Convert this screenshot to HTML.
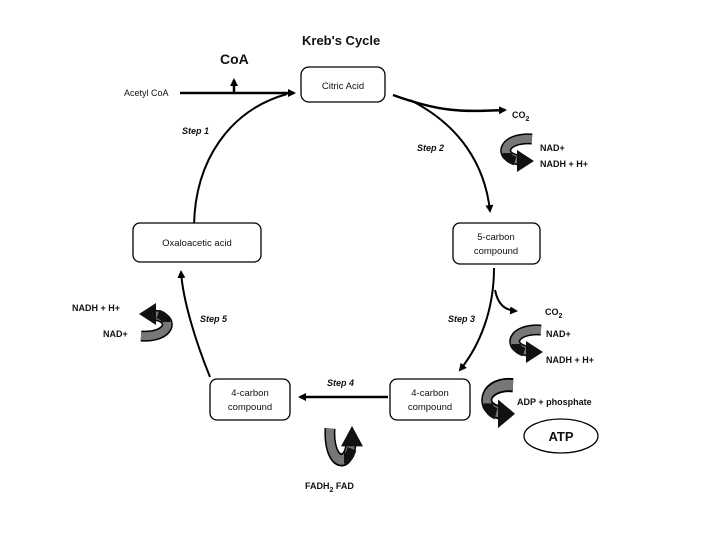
<!DOCTYPE html>
<html><head><meta charset="utf-8"><style>
html,body{margin:0;padding:0;background:#fff;}
svg{display:block;}
text{font-family:"Liberation Sans",Arial,sans-serif;fill:#111;}
</style></head><body>
<svg width="720" height="540" viewBox="0 0 720 540" xmlns="http://www.w3.org/2000/svg">
<defs>
<marker id="ah" markerWidth="8" markerHeight="8" refX="6" refY="4" orient="auto" markerUnits="userSpaceOnUse"><path d="M0,0 L8,4 L0,8 Z" fill="#000"/></marker>
<g id="curl">
<path d="M33,4 C4,2 -2,22 20,25" fill="none" stroke="#000" stroke-width="11"/>
<path d="M33,4 C4,2 -2,22 20,25" fill="none" stroke="#777" stroke-width="8"/>
<path d="M16,26 C10,24 8,21 8,18" fill="none" stroke="#111" stroke-width="9"/>
<polygon points="18,15 35,26 18,37" fill="#111"/>
</g>
</defs>

<text x="302" y="45" font-size="13" font-weight="bold">Kreb's Cycle</text>
<text x="220" y="64" font-size="14" font-weight="bold">CoA</text>
<line x1="234" y1="93" x2="234" y2="80" stroke="#000" stroke-width="2.5" marker-end="url(#ah)"/>
<text x="124" y="96" font-size="9">Acetyl CoA</text>
<line x1="180" y1="93" x2="294" y2="93" stroke="#000" stroke-width="2.5" marker-end="url(#ah)"/>

<rect x="301" y="67" width="84" height="35" rx="8" fill="#fff" stroke="#000" stroke-width="1.3"/>
<text x="343" y="89" font-size="9.5" text-anchor="middle">Citric Acid</text>

<path d="M393,95 C440,112 460,112 505,110" fill="none" stroke="#000" stroke-width="2.5" marker-end="url(#ah)"/>
<path d="M410,100 C460,125 485,165 490,211" fill="none" stroke="#000" stroke-width="2" marker-end="url(#ah)"/>
<text x="512" y="118" font-size="9" font-weight="bold">CO<tspan font-size="7" dy="3">2</tspan></text>
<use href="#curl" x="499" y="135"/>
<text x="540" y="151" font-size="9" font-weight="bold">NAD+</text>
<text x="540" y="167" font-size="9" font-weight="bold">NADH + H+</text>

<text x="182" y="134" font-size="9" font-weight="bold" font-style="italic">Step 1</text>
<text x="417" y="151" font-size="9" font-weight="bold" font-style="italic">Step 2</text>

<path d="M194,226 C195,160 230,110 287,94" fill="none" stroke="#000" stroke-width="2"/>

<rect x="133" y="223" width="128" height="39" rx="7" fill="#fff" stroke="#000" stroke-width="1.3"/>
<text x="197" y="246" font-size="9.5" text-anchor="middle">Oxaloacetic acid</text>
<rect x="453" y="223" width="87" height="41" rx="7" fill="#fff" stroke="#000" stroke-width="1.3"/>
<text x="496" y="240" font-size="9.5" text-anchor="middle">5-carbon</text>
<text x="496" y="254" font-size="9.5" text-anchor="middle">compound</text>

<path d="M210,377 C195,340 183,300 181,272" fill="none" stroke="#000" stroke-width="2" marker-end="url(#ah)"/>
<text x="72" y="311" font-size="9" font-weight="bold">NADH + H+</text>
<text x="103" y="337" font-size="9" font-weight="bold">NAD+</text>
<use href="#curl" transform="translate(174,340) rotate(180)"/>
<text x="200" y="322" font-size="9" font-weight="bold" font-style="italic">Step 5</text>
<text x="448" y="322" font-size="9" font-weight="bold" font-style="italic">Step 3</text>

<path d="M494,268 C494,310 480,345 460,370" fill="none" stroke="#000" stroke-width="2" marker-end="url(#ah)"/>
<path d="M495,290 C498,305 505,310 516,311" fill="none" stroke="#000" stroke-width="2" marker-end="url(#ah)"/>
<text x="545" y="315" font-size="9" font-weight="bold">CO<tspan font-size="7" dy="3">2</tspan></text>
<use href="#curl" x="508" y="326"/>
<text x="546" y="337" font-size="9" font-weight="bold">NAD+</text>
<text x="546" y="363" font-size="9" font-weight="bold">NADH + H+</text>
<use href="#curl" transform="translate(480,380) scale(1,1.3)"/>
<text x="517" y="405" font-size="9" font-weight="bold">ADP + phosphate</text>
<ellipse cx="561" cy="436" rx="37" ry="17" fill="#fff" stroke="#000" stroke-width="1.3"/>
<text x="561" y="441" font-size="13" font-weight="bold" text-anchor="middle">ATP</text>

<rect x="390" y="379" width="80" height="41" rx="7" fill="#fff" stroke="#000" stroke-width="1.3"/>
<text x="430" y="396" font-size="9.5" text-anchor="middle">4-carbon</text>
<text x="430" y="410" font-size="9.5" text-anchor="middle">compound</text>
<rect x="210" y="379" width="80" height="41" rx="7" fill="#fff" stroke="#000" stroke-width="1.3"/>
<text x="250" y="396" font-size="9.5" text-anchor="middle">4-carbon</text>
<text x="250" y="410" font-size="9.5" text-anchor="middle">compound</text>
<line x1="388" y1="397" x2="300" y2="397" stroke="#000" stroke-width="2.5" marker-end="url(#ah)"/>
<text x="327" y="386" font-size="9" font-weight="bold" font-style="italic">Step 4</text>

<use href="#curl" transform="translate(326,468) rotate(-90) scale(1.2,1)"/>
<text x="305" y="489" font-size="9" font-weight="bold">FADH<tspan font-size="7" dy="3">2</tspan><tspan dy="-3">  FAD</tspan></text>
</svg>
</body></html>
